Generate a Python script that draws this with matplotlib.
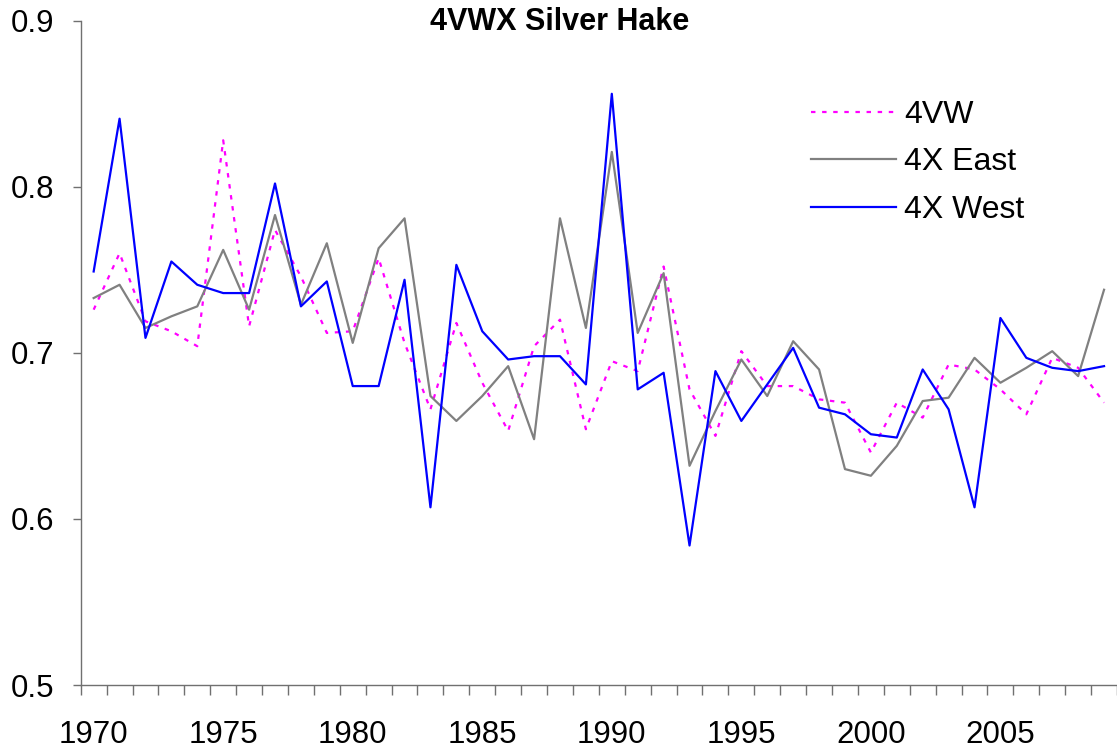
import matplotlib
matplotlib.use("Agg")
import matplotlib.pyplot as plt
import numpy as np

plt.rcParams['font.family'] = ['Liberation Sans', 'DejaVu Sans']

years = list(range(1970, 2010))

# 4VW (dotted magenta)
vw = [0.726, 0.760, 0.719, 0.713, 0.704, 0.828, 0.716, 0.774, 0.746, 0.712,
      0.713, 0.757, 0.706, 0.666, 0.718, 0.682, 0.653, 0.704, 0.720, 0.654,
      0.695, 0.689, 0.752, 0.678, 0.650, 0.701, 0.680, 0.680, 0.672, 0.670,
      0.640, 0.670, 0.661, 0.693, 0.690, 0.678, 0.663, 0.697, 0.691, 0.670]

# 4X East (gray)
x_east = [0.733, 0.741, 0.715, 0.722, 0.728, 0.762, 0.726, 0.783, 0.729, 0.766,
          0.706, 0.763, 0.781, 0.674, 0.659, 0.674, 0.692, 0.648, 0.781, 0.715,
          0.821, 0.712, 0.748, 0.632, 0.665, 0.696, 0.674, 0.707, 0.690, 0.630,
          0.626, 0.644, 0.671, 0.673, 0.697, 0.682, 0.691, 0.701, 0.686, 0.738]

# 4X West (blue)
x_west = [0.749, 0.841, 0.709, 0.755, 0.741, 0.736, 0.736, 0.802, 0.728, 0.743,
          0.680, 0.680, 0.744, 0.607, 0.753, 0.713, 0.696, 0.698, 0.698, 0.681,
          0.856, 0.678, 0.688, 0.584, 0.689, 0.659, 0.681, 0.703, 0.667, 0.663,
          0.651, 0.649, 0.690, 0.666, 0.607, 0.721, 0.697, 0.691, 0.689, 0.692]

year_labels = [1970, 1975, 1980, 1985, 1990, 1995, 2000, 2005]
y_ticks = [0.5, 0.6, 0.7, 0.8, 0.9]

fig = plt.figure(figsize=(11.17, 7.53), dpi=100)
ax = fig.add_axes([0.07225, 0.0903, 0.92775, 0.8822])

ax.plot(years, vw, color='#FF00FF', lw=1.6, linestyle=(0, (2, 3)), label='4VW')
ax.plot(years, x_east, color='#808080', lw=1.6, label='4X East')
ax.plot(years, x_west, color='#0000FF', lw=1.6, label='4X West')

ax.set_ylim(0.5, 0.9)
ax.set_xlim(1969.5, 1969.5 + (1117 - 80.7) / 26.0)

for s in ['top', 'right']:
    ax.spines[s].set_visible(False)
for s in ['left', 'bottom']:
    ax.spines[s].set_color('#707070')
    ax.spines[s].set_linewidth(1.0)

ax.set_yticks(y_ticks)
ax.set_yticklabels([f"{v:.1f}" for v in y_ticks])
ax.tick_params(axis='y', direction='out', length=6, width=1, color='#707070',
               labelsize=22.5, pad=13)

ax.set_xticks(year_labels)
ax.set_xticklabels([str(y) for y in year_labels])
ax.set_xticks(np.arange(1969.5, 2010, 1.0), minor=True)
ax.tick_params(axis='x', which='major', length=0, labelsize=22.5, pad=25)
ax.tick_params(axis='x', which='minor', direction='out', length=7, width=1,
               color='#707070')

fig.text(0.501, 0.971, '4VWX Silver Hake', ha='center', va='center',
         fontsize=22, fontweight='bold')

ax.legend(loc='upper left', bbox_to_anchor=(0.715, 0.8845), bbox_transform=fig.transFigure,
          frameon=False, fontsize=23, handlelength=2.65, handletextpad=0.25,
          labelspacing=0.55, borderaxespad=0)

fig.savefig('out.png', dpi=100)
